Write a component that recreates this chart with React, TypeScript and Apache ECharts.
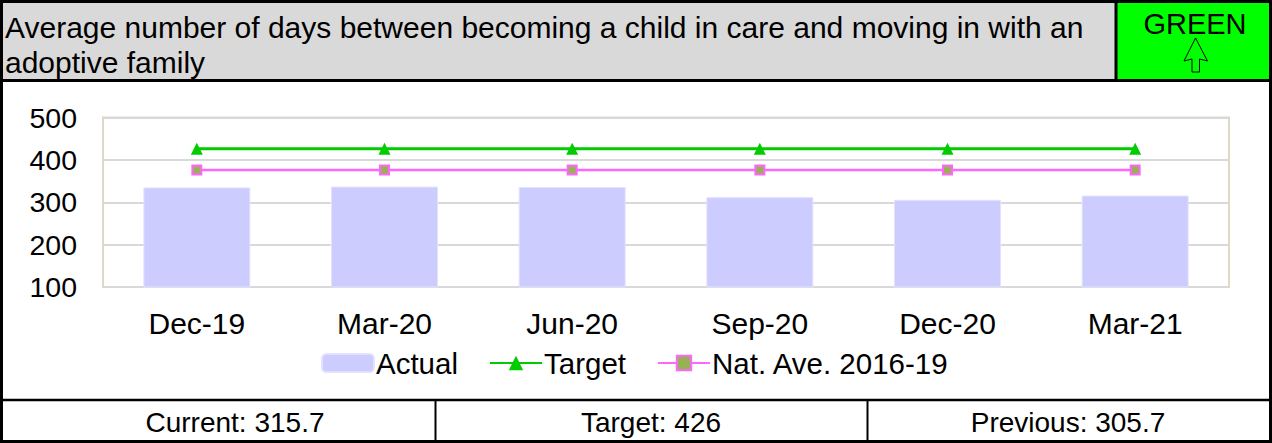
import React, { useEffect, useRef } from "react";
import * as echarts from "echarts";

const categories = ["Dec-19", "Mar-20", "Jun-20", "Sep-20", "Dec-20", "Mar-21"];
const actual = [335, 337, 336, 312, 305.7, 315.7];
const target = [426, 426, 426, 426, 426, 426];
const natAve = [376, 376, 376, 376, 376, 376];
const yTicks = { min: 100, max: 500, interval: 100 };
const titleText = "Average number of days between becoming a child in care and moving in with an adoptive family";
const ragStatus = "GREEN";
const summary = ["Current: 315.7", "Target: 426", "Previous: 305.7"];

const FONT = "'Liberation Sans', Arial, sans-serif";

export default function App() {
  const ref = useRef<HTMLDivElement>(null);
  useEffect(() => {
    document.body.style.margin = "0";
    if (!ref.current) return;
    const chart = echarts.init(ref.current, null, { renderer: "svg" });
    chart.setOption({
      animation: false,
      backgroundColor: "#ffffff",
      textStyle: { fontFamily: FONT },
      grid: { left: 103, right: 43, top: 117.5, bottom: 156, show: true, borderColor: "#ddd9c3", borderWidth: 2, backgroundColor: "transparent" },
      legend: {
        left: 316,
        top: 343,
        itemWidth: 52,
        itemHeight: 18,
        itemGap: 31,
        textStyle: { fontSize: 29.5, color: "#000", fontFamily: FONT, padding: [0, 0, 0, -3] },
        data: ["Actual", "Target", "Nat. Ave. 2016-19"],
      },
      xAxis: {
        type: "category",
        data: categories,
        axisLine: { show: true, lineStyle: { color: "#d9d9d9", width: 2 } },
        axisTick: { show: false },
        axisLabel: { color: "#000", fontSize: 30, fontFamily: FONT, margin: 21 },
      },
      yAxis: {
        type: "value",
        min: yTicks.min,
        max: yTicks.max,
        interval: yTicks.interval,
        axisLine: { show: true, lineStyle: { color: "#ddd9c3", width: 2 } },
        axisTick: { show: false },
        splitLine: { lineStyle: { color: "#d9d9d9", width: 2 } },
        axisLabel: { color: "#000", fontSize: 28.5, fontFamily: FONT, margin: 26 },
      },
      series: [
        {
          name: "Actual",
          type: "bar",
          data: actual,
          barWidth: 107,
          itemStyle: { color: "#ccccff", borderColor: "#e2e2ff", borderWidth: 1 },
        },
        {
          name: "Target",
          type: "line",
          data: target,
          symbol: "triangle",
          symbolSize: 12,
          lineStyle: { color: "#00cc00", width: 3 },
          itemStyle: { color: "#00cc00" },
        },
        {
          name: "Nat. Ave. 2016-19",
          type: "line",
          data: natAve,
          symbol: "rect",
          symbolSize: 9,
          lineStyle: { color: "#ff66ff", width: 2.5 },
          itemStyle: { color: "#99b055", borderColor: "#ff66ff", borderWidth: 2 },
        },
      ],
      graphic: [
        { type: "rect", z: 0, shape: { x: 0, y: 0, width: 1117, height: 80 }, style: { fill: "#d9d9d9" } },
        { type: "rect", z: 0, shape: { x: 1117, y: 0, width: 155, height: 80 }, style: { fill: "#00ff00" } },
        {
          type: "text",
          z: 10,
          left: 5,
          top: 10,
          style: { text: titleText, width: 1100, overflow: "break", lineHeight: 35, fontSize: 30, fontFamily: FONT, fill: "#000" },
        },
        {
          type: "text",
          z: 10,
          x: 1195,
          y: 9,
          style: { text: ragStatus, fontSize: 29, fontFamily: FONT, fill: "#000", align: "center", verticalAlign: "top" },
        },
        {
          type: "polygon",
          z: 10,
          shape: { points: [[1195.5, 38], [1207.5, 61], [1199.5, 59], [1199.5, 72], [1192, 72], [1192, 59], [1184, 61]] },
          style: { fill: "#00ff00", stroke: "#000", lineWidth: 1 },
        },
        { type: "line", z: 10, shape: { x1: 0, y1: 80.5, x2: 1272, y2: 80.5 }, style: { stroke: "#000", lineWidth: 3 } },
        { type: "line", z: 10, shape: { x1: 1116, y1: 0, x2: 1116, y2: 80 }, style: { stroke: "#000", lineWidth: 3 } },
        { type: "line", z: 10, shape: { x1: 0, y1: 400, x2: 1272, y2: 400 }, style: { stroke: "#000", lineWidth: 2.5 } },
        { type: "line", z: 10, shape: { x1: 435.5, y1: 400, x2: 435.5, y2: 443 }, style: { stroke: "#000", lineWidth: 2 } },
        { type: "line", z: 10, shape: { x1: 867.5, y1: 400, x2: 867.5, y2: 443 }, style: { stroke: "#000", lineWidth: 2 } },
        { type: "rect", z: 10, shape: { x: 1.5, y: 1.5, width: 1269, height: 440 }, style: { fill: "none", stroke: "#000", lineWidth: 3 } },
        { type: "text", z: 10, x: 235, y: 422, style: { text: summary[0], fontSize: 28, fontFamily: FONT, fill: "#000", align: "center", verticalAlign: "middle" } },
        { type: "text", z: 10, x: 651, y: 422, style: { text: summary[1], fontSize: 28, fontFamily: FONT, fill: "#000", align: "center", verticalAlign: "middle" } },
        { type: "text", z: 10, x: 1068, y: 422, style: { text: summary[2], fontSize: 28, fontFamily: FONT, fill: "#000", align: "center", verticalAlign: "middle" } },
      ],
    });
    return () => chart.dispose();
  }, []);
  return <div ref={ref} style={{ width: 1272, height: 443 }} />;
}
